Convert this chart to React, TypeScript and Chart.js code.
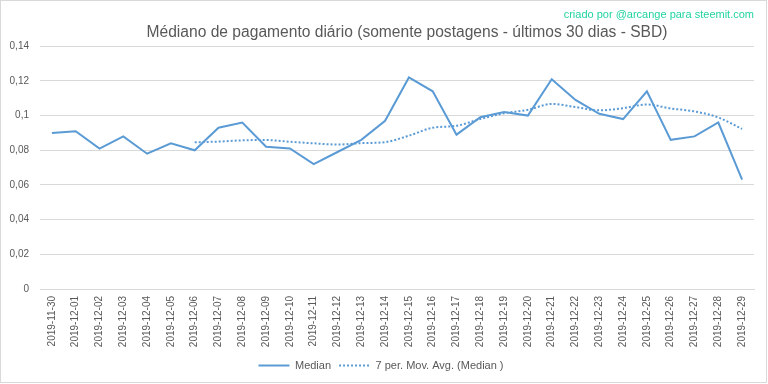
import React, { useEffect, useRef } from "react";
import { Chart, registerables } from "chart.js";

Chart.register(...registerables);

const categories = [
  "2019-11-30", "2019-12-01", "2019-12-02", "2019-12-03", "2019-12-04", "2019-12-05",
  "2019-12-06", "2019-12-07", "2019-12-08", "2019-12-09", "2019-12-10", "2019-12-11",
  "2019-12-12", "2019-12-13", "2019-12-14", "2019-12-15", "2019-12-16", "2019-12-17",
  "2019-12-18", "2019-12-19", "2019-12-20", "2019-12-21", "2019-12-22", "2019-12-23",
  "2019-12-24", "2019-12-25", "2019-12-26", "2019-12-27", "2019-12-28", "2019-12-29",
];

const median = [
  0.090, 0.091, 0.081, 0.088, 0.078, 0.084,
  0.080, 0.093, 0.096, 0.082, 0.081, 0.072,
  0.079, 0.086, 0.097, 0.122, 0.114, 0.089,
  0.099, 0.102, 0.100, 0.121, 0.109, 0.101,
  0.098, 0.114, 0.086, 0.088, 0.096, 0.063,
];

const movingAvg: (number | null)[] = [
  null, null, null, null, null, null,
  0.0846, 0.0850, 0.0857, 0.0859, 0.0849, 0.0840,
  0.0833, 0.0841, 0.0847, 0.0884, 0.0930, 0.0941,
  0.0980, 0.1013, 0.1033, 0.1067, 0.1049, 0.1030,
  0.1043, 0.1064, 0.1041, 0.1024, 0.0989, 0.0923,
];

const yTicks = [0, 0.02, 0.04, 0.06, 0.08, 0.1, 0.12, 0.14];

const titleText = "Médiano de pagamento diário (somente postagens - últimos 30 dias - SBD)";
const creditText = "criado por @arcange para steemit.com";
const seriesNames = ["Median", "7 per. Mov. Avg. (Median )"];

const FONT = "'Liberation Sans', Arial, sans-serif";
const BLUE = "#5B9BD5";
const TEXT = "#595959";

const decorPlugin = {
  id: "decor",
  afterDraw(chart: any) {
    const ctx = chart.ctx;
    ctx.save();
    ctx.strokeStyle = "#D9D9D9";
    ctx.lineWidth = 1;
    ctx.strokeRect(0.5, 0.5, 766, 382);
    ctx.fillStyle = TEXT;
    ctx.font = `15.6px ${FONT}`;
    ctx.textAlign = "center";
    ctx.textBaseline = "middle";
    ctx.fillText(titleText, 407, 33);
    ctx.restore();
  },
};

export default function App() {
  const ref = useRef<HTMLCanvasElement | null>(null);

  useEffect(() => {
    if (!ref.current) return;
    const chart = new Chart(ref.current, {
      type: "line",
      data: {
        labels: categories,
        datasets: [
          {
            label: seriesNames[0],
            data: median,
            borderColor: BLUE,
            backgroundColor: BLUE,
            borderWidth: 2,
            pointRadius: 0,
            pointHoverRadius: 0,
            tension: 0,
          },
          {
            label: seriesNames[1],
            data: movingAvg,
            borderColor: BLUE,
            backgroundColor: BLUE,
            borderWidth: 2,
            borderDash: [2, 2],
            pointRadius: 0,
            pointHoverRadius: 0,
            tension: 0.4,
            cubicInterpolationMode: "monotone",
          },
        ],
      },
      options: {
        responsive: false,
        animation: false,
        layout: { padding: { left: 8, right: 14, top: 0, bottom: 3 } },
        plugins: {
          title: {
            display: true,
            text: creditText,
            align: "end",
            color: "#22D3A0",
            font: { family: FONT, size: 11, weight: "normal" },
            padding: { top: 8, bottom: 25 },
          },
          legend: {
            position: "bottom",
            labels: {
              usePointStyle: true,
              pointStyle: "line",
              pointStyleWidth: 31,
              color: TEXT,
              font: { family: FONT, size: 11 },
              padding: 8,
              generateLabels(chart: any) {
                return chart.data.datasets.map((ds: any, i: number) => ({
                  text: ds.label,
                  datasetIndex: i,
                  fillStyle: ds.borderColor,
                  strokeStyle: ds.borderColor,
                  lineWidth: 2,
                  lineDash: ds.borderDash || [],
                  pointStyle: "line",
                  fontColor: TEXT,
                  hidden: false,
                }));
              },
            },
          },
          tooltip: { enabled: false },
        },
        scales: {
          x: {
            type: "category",
            offset: true,
            grid: { display: false, drawTicks: false },
            border: { display: true, color: "#D9D9D9" },
            afterFit(scale: any) {
              scale.height = 63;
            },
            ticks: {
              color: TEXT,
              font: { family: FONT, size: 10 },
              maxRotation: 90,
              minRotation: 90,
              autoSkip: false,
              padding: 7,
            },
          },
          y: {
            min: 0,
            max: 0.14,
            afterBuildTicks(scale: any) {
              scale.ticks = yTicks.map((v) => ({ value: v }));
            },
            afterFit(scale: any) {
              scale.width = 32;
            },
            grid: { color: "#D9D9D9", drawTicks: false },
            border: { display: false },
            ticks: {
              color: TEXT,
              font: { family: FONT, size: 10 },
              padding: 11,
              callback: (v: any) => String(Math.round(Number(v) * 100) / 100).replace(".", ","),
            },
          },
        },
      },
      plugins: [decorPlugin],
    } as any);
    return () => chart.destroy();
  }, []);

  return (
    <div style={{ position: "fixed", left: 0, top: 0, width: 768, height: 384, background: "#fff" }}>
      <canvas ref={ref} width={768} height={384} style={{ width: 768, height: 384, display: "block" }} />
    </div>
  );
}
